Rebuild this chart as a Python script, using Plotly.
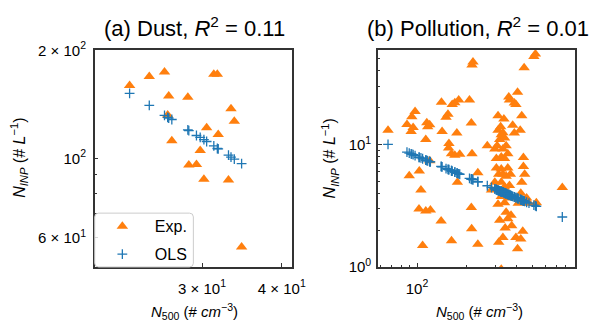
import plotly.graph_objects as go

# ---------------- data ----------------
# (a) Dust
dust_n500 = [23.1, 24.8, 26.2, 31.3, 31.7, 26.6, 28.5, 26.5, 33.3, 33.7,
             30.5, 31.8, 26.9, 29.8, 28.6, 29.4, 30.2, 33.0, 34.6]
dust_exp = [159.7, 169, 174, 171.7, 171.7, 149.3, 148, 132.1, 137.5, 126.8,
            121.7, 116.6, 112, 105.2, 95.8, 96.1, 87.5, 87, 56.6]
dust_ols = [151.8, 140.5, 131.8, 108.3, 106.5, 129.5, 120.1, 130.0, 100.8, 99.5,
            111.4, 106.3, 128.3, 114.4, 119.5, 115.8, 112.8, 102.1, 96.7]

# (b) Pollution
poll_n500 = [66.7, 86.9, 93.0, 97.3, 92.1, 94.7, 114.6, 116.1, 119.3, 113.0,
             119.4, 89.7, 103.2, 105.6, 102.8, 113.0, 120.5, 108.1, 140.6, 141.9,
             140.0, 149.9, 154.0, 156.1, 155.3, 163.4, 169.5, 178.9, 174.3, 161.8,
             169.5, 181.5, 175.7, 161.8, 208.0, 213.4, 215.4, 218.4, 215.4, 213.4,
             214.4, 233.7, 233.7, 266.7, 446.0, 511.0, 522.3, 529.0, 760.0,
             296.2, 317.1, 324.1, 309.8, 321.4, 331.6, 339.4, 346.9, 355.0, 324.1,
             302.7, 302.7, 312.8, 331.6, 282.8, 302.7, 324.1, 339.4, 346.9, 363.4,
             324.1, 339.4, 309.8, 346.9, 355.0, 371.4, 368.4, 317.1, 312.8, 331.6,
             342.2, 397.6, 406.9, 375.0, 324.1, 309.8, 336.2, 359.9, 363.4, 389.0,
             397.6, 406.9, 380.1, 389.0, 431.4, 422.1, 441.6, 441.6, 449.5, 431.4,
             425.6, 410.8, 461.9, 477.2, 437.4, 425.6,
             339.4, 306.0, 331.6, 355.0, 324.1, 346.9, 296.2, 368.4]
poll_exp = [13.1, 14.6, 16.9, 18.6, 12.8, 13.8, 15.1, 14.0, 14.5, 11.0,
            7.38, 5.55, 6.07, 4.25, 2.97, 2.86, 2.92, 1.50, 22.2, 12.8,
            2.38, 16.7, 17.7, 10.2, 9.36, 21.2, 22.0, 23.1, 12.4, 8.41,
            8.17, 8.32, 4.92, 1.64, 23.1, 15.0, 44.6, 47.3, 8.41, 3.06,
            2.05, 1.53, 5.88, 9.77, 42.5, 52.3, 54.8, 3.35, 4.46,
            9.2, 11.0, 12.0, 13.1, 14.0, 12.5, 11.3, 9.77, 8.41, 7.93,
            7.69, 6.43, 5.72, 5.72, 4.25, 4.38, 4.92, 4.50, 4.12, 4.64,
            3.77, 3.35, 3.25, 2.80, 2.48, 2.64, 3.66, 2.41, 1.59, 1.74,
            2.08, 1.74, 1.41, 2.17, 0.96, 17.2, 16.2, 24.5, 23.1, 21.8,
            21.2, 26.8, 14.4, 12.4, 17.2, 13.1, 7.83, 6.63, 5.72, 4.92,
            4.00, 3.31, 3.66, 3.31, 1.96, 1.69,
            7.69, 9.77, 9.2, 6.43, 6.3, 5.5, 4.92, 5.72]
poll_ols = [10.05, 8.66, 8.34, 8.13, 8.39, 8.26, 7.41, 7.36, 7.25, 7.47,
            7.25, 8.51, 7.87, 7.77, 7.88, 7.47, 7.21, 7.66, 6.61, 6.58,
            6.63, 6.37, 6.28, 6.23, 6.24, 6.07, 5.95, 5.77, 5.85, 6.11,
            5.95, 5.72, 5.83, 6.11, 5.30, 5.22, 5.20, 5.16, 5.20, 5.22,
            5.21, 4.97, 4.97, 4.61, 3.45, 3.20, 3.16, 3.13, 2.56,
            4.34, 4.18, 4.13, 4.23, 4.15, 4.08, 4.02, 3.97, 3.92, 4.13,
            4.29, 4.29, 4.21, 4.08, 4.46, 4.29, 4.13, 4.02, 3.97, 3.87,
            4.13, 4.02, 4.23, 3.97, 3.92, 3.82, 3.84, 4.18, 4.21, 4.08,
            4.00, 3.68, 3.63, 3.80, 4.13, 4.23, 4.04, 3.89, 3.87, 3.73,
            3.68, 3.63, 3.77, 3.73, 3.52, 3.56, 3.47, 3.47, 3.44, 3.52,
            3.54, 3.61, 3.38, 3.32, 3.49, 3.54,
            4.02, 4.26, 4.08, 3.92, 4.13, 3.97, 4.34, 3.84]

titles = ["(a) Dust, <i>R</i><sup>2</sup> = 0.11",
          "(b) Pollution, <i>R</i><sup>2</sup> = 0.01"]
ylabel = "<i>N</i><sub><i>INP</i></sub> (# <i>L</i><sup>−1</sup>)"
xlabel = "<i>N</i><sub>500</sub> (# <i>cm</i><sup>−3</sup>)"

a_xticks = [30, 40]
a_xtext = ["3 × 10<sup>1</sup>", "4 × 10<sup>1</sup>"]
a_yticks = [60, 100, 200]
a_ytext = ["6 × 10<sup>1</sup>", "10<sup>2</sup>", "2 × 10<sup>2</sup>"]
b_xticks = [100]
b_xtext = ["10<sup>2</sup>"]
b_yticks = [1, 10]
b_ytext = ["10<sup>0</sup>", "10<sup>1</sup>"]

FONT = "Liberation Sans, Arial, sans-serif"
ORANGE = "#ff7f0e"
BLUE = "#1f77b4"
AX = "#333333"

fig = go.Figure()
tri = dict(symbol="triangle-up", size=10, color=ORANGE, line=dict(width=0))
plus = dict(symbol="cross-thin", size=7, color=BLUE, line=dict(color=BLUE, width=1.3))

fig.add_trace(go.Scatter(x=dust_n500, y=dust_exp, mode="markers", name="Exp.",
                         legendgroup="exp", marker=tri, xaxis="x", yaxis="y"))
fig.add_trace(go.Scatter(x=dust_n500, y=dust_ols, mode="markers", name="OLS",
                         legendgroup="ols", marker=plus, xaxis="x", yaxis="y"))
fig.add_trace(go.Scatter(x=poll_n500, y=poll_exp, mode="markers", showlegend=False,
                         marker=tri, xaxis="x2", yaxis="y2"))
fig.add_trace(go.Scatter(x=poll_n500, y=poll_ols, mode="markers", showlegend=False,
                         marker=plus, xaxis="x2", yaxis="y2"))


def axis(domain, rng, tv, tt, minor_vals, anchor, standoff):
    return dict(type="log", domain=domain, range=rng, anchor=anchor,
                showline=True, linecolor=AX, linewidth=1.5, mirror=True,
                ticks="inside", ticklen=4, tickwidth=1, tickcolor=AX,
                showgrid=False, zeroline=False,
                tickmode="array", tickvals=tv, ticktext=tt,
                tickfont=dict(family=FONT, size=15, color="black"),
                ticklabelstandoff=standoff,
                minor=dict(ticks="inside", ticklen=2.5, tickwidth=0.8, tickcolor=AX,
                           tickmode="array", tickvals=minor_vals, showgrid=False))


W, H = 598, 326
ydom = [1 - 272 / H, 1 - 42 / H]
fig.update_layout(
    width=W, height=H,
    margin=dict(l=0, r=0, t=0, b=0),
    paper_bgcolor="white", plot_bgcolor="white",
    font=dict(family=FONT, color="black"),
    xaxis=axis([97 / W, 299 / W], [1.309, 1.618], a_xticks, a_xtext, [], "y", 7),
    yaxis=axis(ydom, [1.697, 2.303], a_yticks, a_ytext, [70, 80, 90], "x", 4),
    xaxis2=axis([387 / W, 589 / W], [1.763, 2.959], b_xticks, b_xtext,
                [60, 70, 80, 90, 200, 300, 400, 500, 600, 700, 800, 900], "y2", 7),
    yaxis2=axis(ydom, [0, 1.775], b_yticks, b_ytext,
                [2, 3, 4, 5, 6, 7, 8, 9, 20, 30, 40, 50], "x2", 2),
    legend=dict(x=92 / W, y=1 - 211 / H, xanchor="left", yanchor="top",
                bgcolor="rgba(0,0,0,0)", borderwidth=0,
                font=dict(family=FONT, size=16, color="black"), itemwidth=55,
                tracegroupgap=4),
    showlegend=True,
)

# rounded legend frame (semi-transparent, drawn over the axes like the original)
x0, x1 = 97 / W, 198 / W
yb, yt = 1 - 272 / H, 1 - 215 / H
rx, ry = 4 / W, 4 / H
path = (f"M {x0+rx},{yt} L {x1-rx},{yt} Q {x1},{yt} {x1},{yt-ry} "
        f"L {x1},{yb+ry} Q {x1},{yb} {x1-rx},{yb} L {x0+rx},{yb} "
        f"Q {x0},{yb} {x0},{yb+ry} L {x0},{yt-ry} Q {x0},{yt} {x0+rx},{yt} Z")
fig.add_shape(type="path", path=path, xref="paper", yref="paper", layer="above",
              fillcolor="rgba(255,255,255,0.8)", line=dict(color="#cccccc", width=1))

ann = []
for cx, t in [(199 / W, titles[0]), (489 / W, titles[1])]:
    ann.append(dict(x=cx, y=1 - 18 / H, xref="paper", yref="paper", text=t,
                    showarrow=False, xanchor="center", yanchor="middle",
                    font=dict(family=FONT, size=22, color="black")))
for cx in [199 / W, 491 / W]:
    ann.append(dict(x=cx, y=1 - 319 / H, xref="paper", yref="paper", text=xlabel,
                    showarrow=False, xanchor="center", yanchor="middle",
                    font=dict(family=FONT, size=15, color="black")))
for cx in [20 / W, 338 / W]:
    ann.append(dict(x=cx, y=1 - 157 / H, xref="paper", yref="paper", text=ylabel,
                    showarrow=False, xanchor="center", yanchor="middle", textangle=-90,
                    font=dict(family=FONT, size=16, color="black")))
fig.update_layout(annotations=ann)

fig.write_html("out.html")
